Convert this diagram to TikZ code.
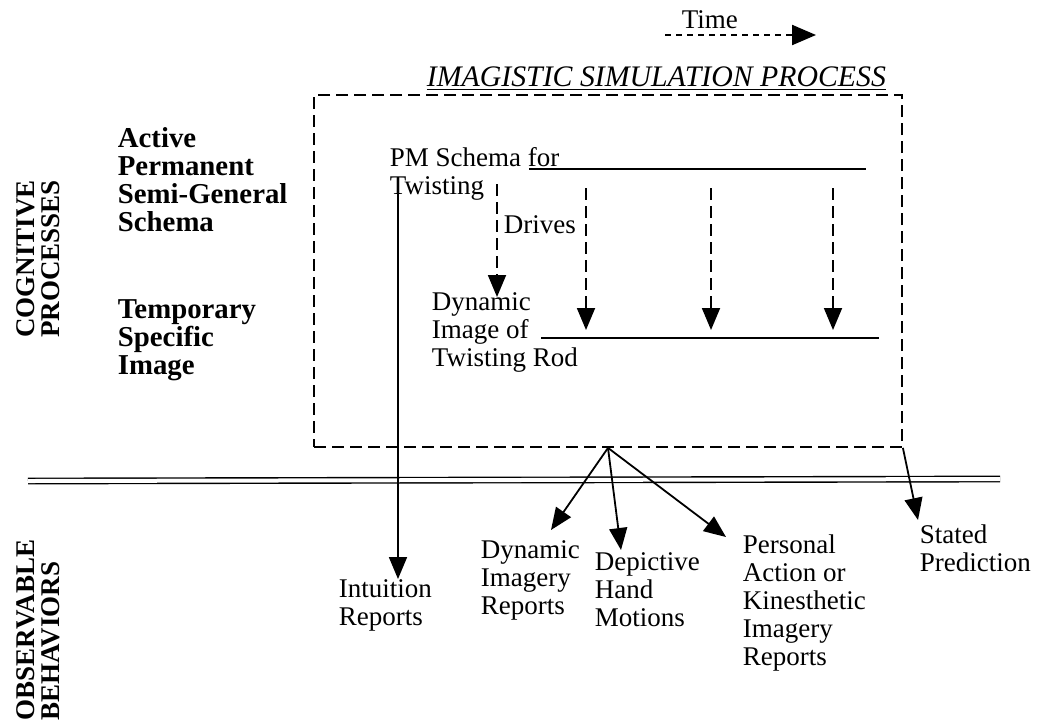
\documentclass[tikz,border=0pt]{standalone}
\usepackage{fontspec}
\setmainfont{Liberation Serif}
\usetikzlibrary{arrows.meta}

\begin{document}
\begin{tikzpicture}[x=0.5pt,y=-0.5pt,line width=0.9pt,
  lbl/.style={anchor=north west,inner sep=0pt,align=left,font=\fontsize{13.5}{14}\selectfont},
  side/.style={lbl,font=\fontsize{14.4}{14}\selectfont\bfseries},
  vlabel/.style={inner sep=0pt,align=left,rotate=90,font=\fontsize{13.5}{12.5}\selectfont\bfseries},
  tip/.style={-{Triangle[length=11pt,width=9pt]}},
  dashline/.style={dash pattern=on 6pt off 3pt}]
\useasboundingbox (0,0) rectangle (1038,725);

% Side labels
\node[vlabel] (cog) at (38,259) {COGNITIVE\\PROCESSES};
\node[vlabel] (obs) at (38,630) {OBSERVABLE\\BEHAVIORS};
\node[side] (active) at (117,127) {Active\\Permanent\\Semi-General\\Schema};
\node[side] (temp) at (117,299) {Temporary\\Specific\\Image};

% Time arrow
\node[lbl] (time) at (681,10) {Time};
\coordinate (tstart) at (665,35);
\coordinate (tend) at (816,35);
\draw[-{Triangle[length=12pt,width=10pt]},dash pattern=on 3pt off 2.5pt,line width=1.1pt] (tstart) -- (tend);

% Simulation box
\node[lbl,font=\fontsize{14.9}{14}\selectfont\itshape] (title) at (426,66) {\underline{IMAGISTIC SIMULATION PROCESS}};
\node[draw,dashline,minimum width=294pt,minimum height=176pt,inner sep=0pt] (box) at (608,271) {};

% Schema and image
\node[lbl] (pm) at (389,147) {PM Schema for\\Twisting};
\node[lbl] (dyn) at (431,292) {Dynamic\\Image of\\Twisting Rod};
\node[lbl] (drives) at (503,215) {Drives};
\draw (529,169) coordinate (pmL) -- (866,169) coordinate (pmR);
\draw (541,338) coordinate (dynL) -- (879,338) coordinate (dynR);
\draw[tip,dashline] (497,184) coordinate (drv) -- (497,297);
\foreach \xx in {586,711,833}
  \draw[tip,dashline] (\xx,188) -- (\xx,330);

% Separator
\coordinate (sepL) at (28,481);
\coordinate (sepR) at (1000,479);
\draw[double,double distance=2pt,line width=0.7pt] (sepL) -- (sepR);

% Behaviors
\node[lbl] (intu) at (338,579) {Intuition\\Reports};
\node[lbl] (dynrep) at (480,540) {Dynamic\\Imagery\\Reports};
\node[lbl] (hand) at (594,552) {Depictive\\Hand\\Motions};
\node[lbl] (pers) at (742,534) {Personal\\Action or\\Kinesthetic\\Imagery\\Reports};
\node[lbl] (stated) at (919,524) {Stated\\Prediction};

\coordinate (twistT) at (398,188);
\draw[tip] (twistT) -- (twistT |- intu.north);
\draw[tip] (box.south) -- (551,530);
\draw[tip] (box.south) -- (621,550);
\draw[tip] (box.south) -- (726,537);
\draw[tip] (box.south east) -- (918,520);
\end{tikzpicture}
\end{document}
